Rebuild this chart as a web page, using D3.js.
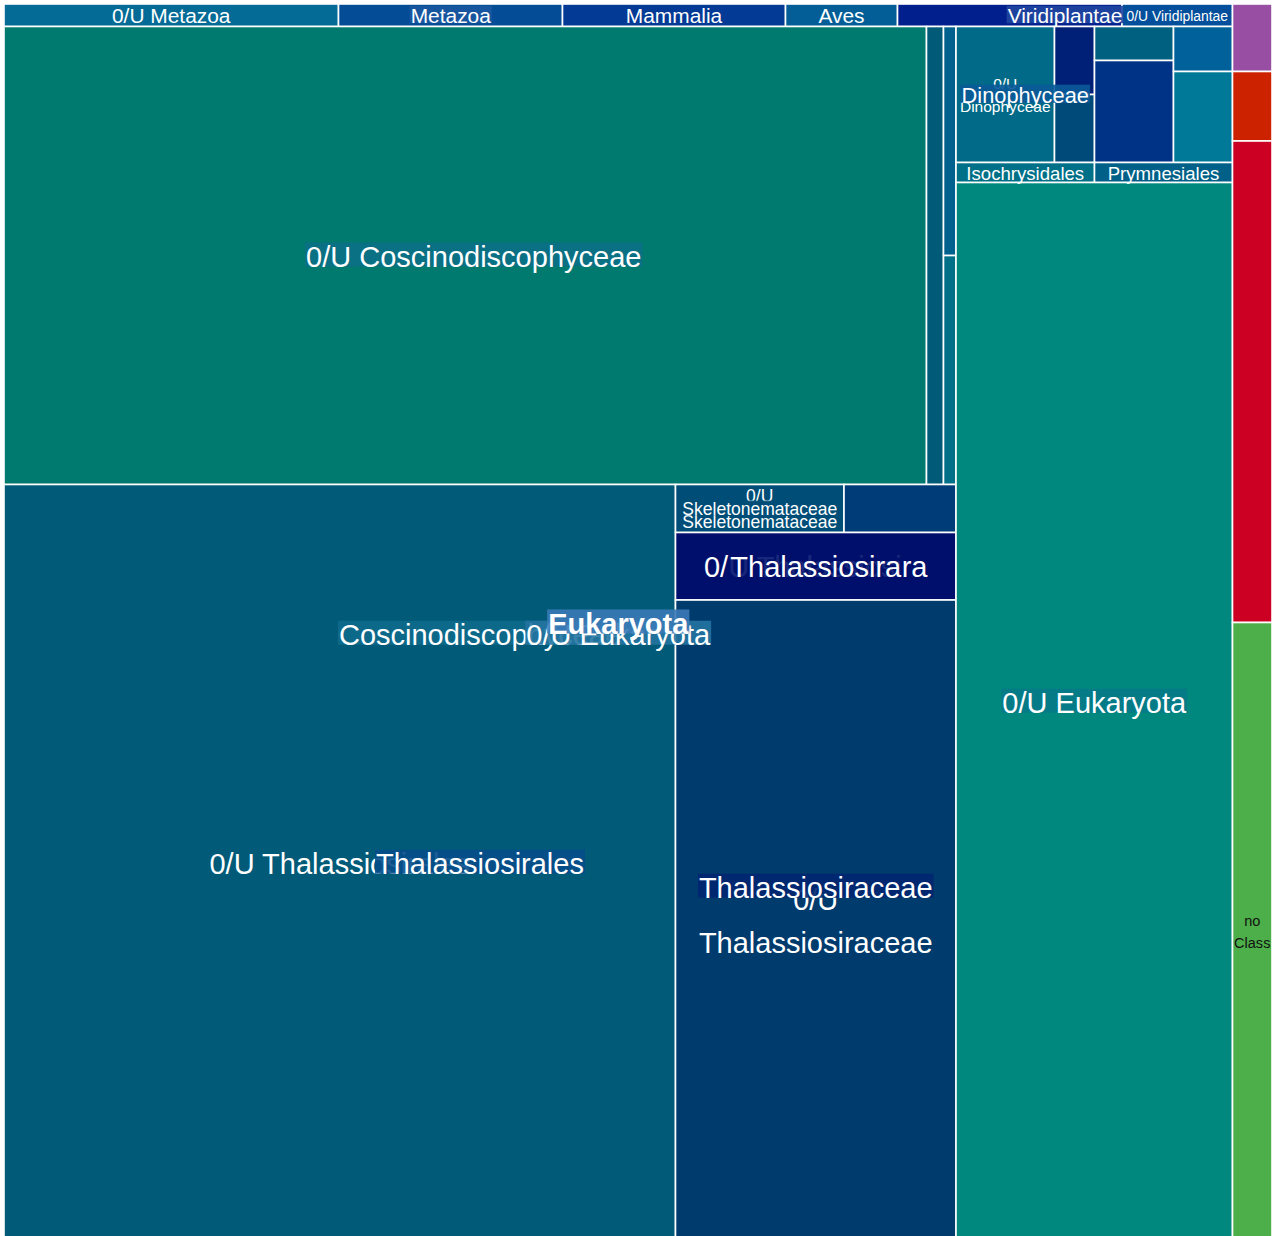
<!DOCTYPE html>
<html>
<head>
<meta charset="utf-8">
<script src="https://cdn.jsdelivr.net/npm/d3@7"></script>
<style>
  html, body { margin: 0; padding: 0; background: #fff; }
  svg { display: block; }
  text { font-family: "Liberation Sans", Arial, Helvetica, sans-serif; }
</style>
</head>
<body>
<svg id="chart" width="1280" height="1236"></svg>
<script>
// ---------------- DATA (taxonomy table: name, parent index, value) ----------------
const taxonNames = [
  "root",                    // 0
  "Eukaryota",               // 1
  "Metazoa",                 // 2
  "0/U Metazoa",             // 3
  "",                        // 4
  "Mammalia",                // 5
  "Aves",                    // 6
  "Viridiplantae",           // 7
  "",                        // 8
  "0/U Viridiplantae",       // 9
  "0/U Eukaryota",           // 10
  "Coscinodiscophyceae",     // 11
  "",                        // 12
  "0/U Coscinodiscophyceae", // 13
  "",                        // 14
  "",                        // 15
  "",                        // 16
  "",                        // 17
  "",                        // 18
  "Thalassiosirales",        // 19
  "0/U Thalassiosirales",    // 20
  "Skeletonemataceae",       // 21
  "0/U Skeletonemataceae",   // 22
  "",                        // 23
  "Thalassiosiraceae",       // 24
  "Thalassiosira",           // 25
  "0/U Thalassiosira",       // 26
  "0/U Thalassiosiraceae",   // 27
  "Dinophyceae",             // 28
  "0/U Dinophyceae",         // 29
  "",                        // 30
  "",                        // 31
  "",                        // 32
  "",                        // 33
  "",                        // 34
  "",                        // 35
  "",                        // 36
  "0/U Eukaryota",           // 37
  "Isochrysidales",          // 38
  "Prymnesiales",            // 39
  "",                        // 40
  "",                        // 41
  "",                        // 42
  "",                        // 43
  "no Class"                 // 44
];
const taxonParents = [
  null, 0, 1, 2, 2, 2, 2, 1, 7, 7,
  1, 10, 11, 12, 13, 13, 12, 16, 16, 11,
  19, 19, 21, 19, 19, 24, 25, 24, 10, 28,
  28, 28, 10, 32, 32, 32, 32, 10, 37, 37,
  37, 0, 0, 0, 0
];
const taxonValues = [
  0, 0, 0, 7526, 5040, 5018, 2520, 0, 5051, 2486,
  0, 0, 0, 0, 422505, 7786, 0, 2863, 2862, 0,
  507990, 0, 8088, 5376, 0, 0, 18934, 179800, 0, 13396,
  2720, 2720, 0, 2686, 8058, 2655, 5369, 0, 2770, 2760,
  292675, 2666, 2745, 19019, 24431
];

// ---------------- STYLE (colours per taxon) ----------------
const taxonColors = [
  "#ffffff", "#3a7ab6", "#1b56a0", "#036b96", "#044c96", "#033a95", "#035e98", "#2046a0", "#021f8e", "#044f9b",
  "#2474a0", "#0e6a8c", "#0a7080", "#0b6f86", "#00796e", "#005a78", "#006a8c", "#00608e", "#007088", "#054d8a",
  "#005a78", "#004e78", "#004e78", "#003d78", "#002770", "#000f6b", "#000f6b", "#003b6e", "#0a5a98", "#006a88",
  "#002078", "#004a7a", "#00508a", "#006080", "#003385", "#00619b", "#007898", "#067a8a", "#007088", "#006088",
  "#00887e", "#984ea3", "#cc2200", "#cc0022", "#4daf4a"
];

const MARGIN = 4, W = 1268, H = 1237;
const MAX_FS = 29, FILL_W = 0.92, FILL_H = 0.93, LH = 1.5;
const FONT = '"Liberation Sans", Arial, Helvetica, sans-serif';

const table = taxonNames.map((name, i) => ({
  id: i, name, parent: taxonParents[i], value: taxonValues[i], color: taxonColors[i]
}));

const root = d3.stratify()
  .id(d => String(d.id))
  .parentId(d => d.parent === null ? null : String(d.parent))(table)
  .sum(d => d.value);

d3.treemap()
  .size([W, H])
  .tile(d3.treemapSquarify.ratio(1))
  .round(false)(root);

const svg = d3.select("#chart");
const g = svg.append("g").attr("transform", `translate(${MARGIN},${MARGIN})`);

// text measurement
const ctx = document.createElement("canvas").getContext("2d");
function unitWidth(str, bold) {
  ctx.font = `${bold ? "bold " : ""}100px ${FONT}`;
  return ctx.measureText(str).width / 100;
}

// leaf rectangles
g.selectAll("rect.cell")
  .data(root.leaves())
  .join("rect")
  .attr("class", "cell")
  .attr("x", d => d.x0)
  .attr("y", d => d.y0)
  .attr("width", d => Math.max(0, d.x1 - d.x0))
  .attr("height", d => Math.max(0, d.y1 - d.y0))
  .attr("fill", d => d.data.color)
  .attr("stroke", "#fff")
  .attr("stroke-width", 1.6);

function fitLeaf(name, w, h) {
  const words = name.split(" ");
  const cands = [[name]];
  for (let i = 1; i < words.length; i++) {
    cands.push([words.slice(0, i).join(" "), words.slice(i).join(" ")]);
  }
  let best = null;
  for (const lines of cands) {
    const tw = d3.max(lines, l => unitWidth(l, false));
    const n = lines.length;
    const fs = Math.min(MAX_FS, FILL_W * w / tw, FILL_H * h / (1 + LH * (n - 1)));
    if (!best || fs > best.fs + 0.01) best = { lines, fs };
  }
  return best;
}

const labels = g.append("g");

// leaf labels first
root.leaves().filter(d => d.data.name).forEach(d => {
  const w = d.x1 - d.x0, h = d.y1 - d.y0;
  const fit = fitLeaf(d.data.name, w, h);
  if (fit.fs < 8) return;
  const cx = (d.x0 + d.x1) / 2, cy = (d.y0 + d.y1) / 2;
  const dark = d3.lab(d.data.color).l > 55;
  const n = fit.lines.length;
  const t = labels.append("text")
    .attr("text-anchor", "middle")
    .attr("font-size", fit.fs)
    .attr("fill", dark ? "#111" : "#fff");
  fit.lines.forEach((line, i) => {
    t.append("tspan")
      .attr("x", cx)
      .attr("y", cy + (i - (n - 1) / 2) * LH * fit.fs)
      .attr("dy", "0.38em")
      .text(line);
  });
});

// parent labels, deepest first so shallower ones end up on top
const parents = root.descendants()
  .filter(d => d.children && d.depth > 0 && d.data.name)
  .sort((a, b) => b.depth - a.depth || a.data.id - b.data.id);

parents.forEach(d => {
  const w = d.x1 - d.x0, h = d.y1 - d.y0;
  const bold = d.depth === 1;
  const uw = unitWidth(d.data.name, bold);
  const fs = Math.min(MAX_FS, FILL_W * w / uw, FILL_H * h);
  if (fs < 8) return;
  const tw = uw * fs;
  const cx = (d.x0 + d.x1) / 2, cy = (d.y0 + d.y1) / 2;
  labels.append("rect")
    .attr("x", cx - tw / 2 - 1)
    .attr("y", cy - 0.45 * fs)
    .attr("width", tw + 2)
    .attr("height", 0.83 * fs)
    .attr("fill", d.data.color)
    .attr("fill-opacity", 0.9);
  labels.append("text")
    .attr("x", cx)
    .attr("y", cy)
    .attr("dy", "0.38em")
    .attr("text-anchor", "middle")
    .attr("font-size", fs)
    .attr("font-weight", bold ? "bold" : "normal")
    .attr("fill", "#fff")
    .text(d.data.name);
});
</script>
</body>
</html>
